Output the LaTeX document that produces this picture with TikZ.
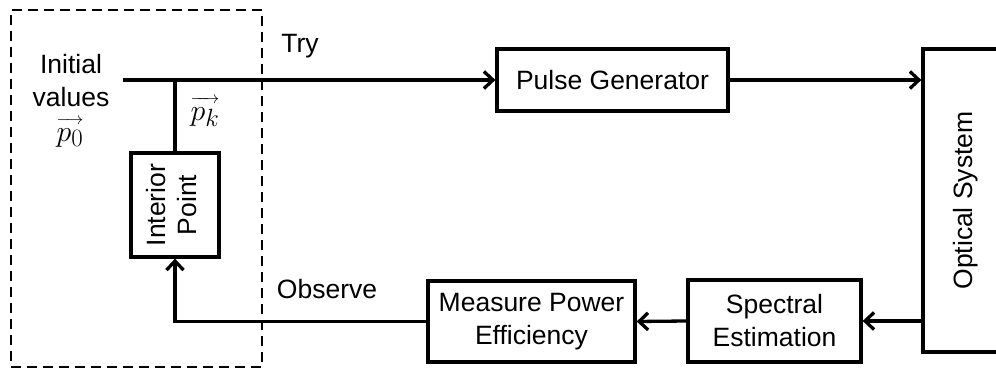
\documentclass[tikz,border=0pt]{standalone}
\usepackage{fontspec}
\setmainfont{Liberation Sans}
\usetikzlibrary{arrows.meta}
\makeatletter
\newcommand{\vecup}[1]{\vbox{\offinterlineskip\halign{##\cr{\fontsize{18}{18}\selectfont\rightarrowfill}\cr\noalign{\kern4pt}\hfil\scalebox{1.2}{$\m@th#1$}\hfil\cr}}}
\makeatother
\begin{document}
\begin{tikzpicture}[x=1pt,y=-1pt,
  every node/.style={font=\fontsize{26.5}{33}\selectfont, inner sep=0pt},
  mathlbl/.style={font=\fontsize{24.88}{30}\selectfont, anchor=base},
  blk/.style={draw, line width=3.3pt, align=center},
  conn/.style={line width=3.3pt},
  arr/.style={conn, -{Straight Barb[length=9pt,width=17pt]}},
  grpframe/.style={draw, line width=2.7pt, dash pattern=on 10pt off 6pt}]
\useasboundingbox (0,0) rectangle (996,369);
% dashed group
\node[grpframe, minimum width=251, minimum height=357] (grp) at (136.5,188.5) {};
% blocks
\node[blk, minimum width=231, minimum height=62] (pg) at (612.5,80) {Pulse Generator};
\node[blk, minimum width=86, minimum height=303] (opt) at (966,200.5) {\rotatebox{90}{Optical System}};
\node[blk, minimum width=173, minimum height=82] (spec) at (774.5,321) {Spectral\\Estimation};
\node[blk, minimum width=207, minimum height=81] (meas) at (531.5,321.5) {Measure Power\\Efficiency};
\node[blk, minimum width=88, minimum height=104] (ip) at (175,205) {\rotatebox{90}{\renewcommand{\arraystretch}{0.92}\begin{tabular}{@{}c@{}}Interior\\Point\end{tabular}}};
% labels
\node[anchor=base] (try) at (300,53) {Try};
\node[anchor=base] (obs) at (327,298) {Observe};
\node[align=center] (init) at (71,81) {Initial\\values};
\node[mathlbl] (p0) at (70,141) {\vecup{p_0}};
\node[mathlbl] (pk) at (205,120) {\vecup{p_k}};
% connectors
\coordinate (start) at (123,80);
\coordinate (j) at (ip.north |- start);
\draw[arr] (start) -- (pg.west);
\draw[conn] (j) -- (ip.north);
\draw[arr] (pg.east) -- (pg.east -| opt.west);
\draw[arr] (opt.west |- spec.east) -- (spec.east);
\draw[arr] (spec.west) -- (meas.east);
\draw[arr] (meas.west) -| (ip.south);
\end{tikzpicture}
\end{document}
